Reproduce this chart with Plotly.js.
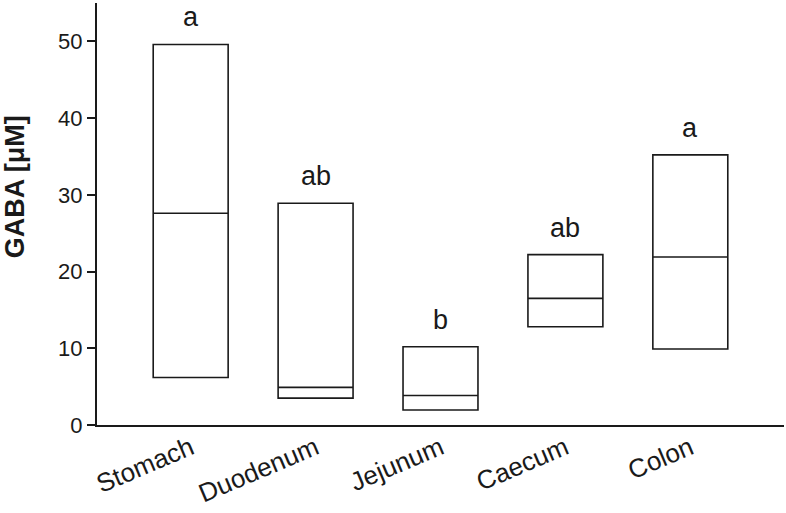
<!DOCTYPE html>
<html>
<head>
<meta charset="utf-8">
<script src="https://cdn.plot.ly/plotly-3.0.1.min.js"></script>
<style>
  html, body { margin: 0; padding: 0; background: #fff; }
  #chart { width: 786px; height: 513px; }
</style>
</head>
<body>
<div id="chart"></div>
<script>
// GABA concentration along the gut (box = q1..q3, line = median)
let sites = ["Stomach", "Duodenum", "Jejunum", "Caecum", "Colon"];
let q1 = [6.2, 3.5, 1.95, 12.8, 9.9];
let med = [27.6, 4.9, 3.85, 16.5, 21.9];
let q3 = [49.6, 28.9, 10.2, 22.2, 35.2];
let letters = ["a", "ab", "b", "ab", "a"];

let ink = "#1a1a1a";

var boxes = {
    type: "box",
    x: sites,
    q1: q1,
    median: med,
    q3: q3,
    lowerfence: q1,
    upperfence: q3,
    width: 0.6,
    whiskerwidth: 0,
    boxpoints: false,
    fillcolor: "#ffffff",
    line: {color: ink, width: 1.6},
    hoverinfo: "skip",
    showlegend: false
};

var notes = [];
for (let i = 0; i < sites.length; i++) {
    notes.push({
        x: sites[i], y: q3[i],
        xref: "x", yref: "y",
        text: letters[i],
        showarrow: false,
        yanchor: "bottom",
        yshift: 10,
        font: {size: 27, color: ink}
    });
}
// y title as annotation: it sits higher than the middle of the axis
notes.push({
    xref: "paper", yref: "paper",
    x: -0.119, y: 0.564,
    text: "<b>GABA [μM]</b>",
    textangle: -90,
    showarrow: false,
    xanchor: "center", yanchor: "middle",
    font: {size: 27, color: ink}
});

var layout = {
    width: 786,
    height: 513,
    margin: {l: 97, r: 2, t: 3, b: 88, pad: 0},
    paper_bgcolor: "#ffffff",
    plot_bgcolor: "#ffffff",
    font: {family: "Liberation Sans, Arial, sans-serif", color: ink},
    xaxis: {
        type: "category",
        range: [-0.75, 4.75],
        showline: true,
        linecolor: ink,
        linewidth: 2,
        ticks: "",
        showgrid: false,
        zeroline: false,
        tickangle: -23,
        ticklabelstandoff: -4,
        tickfont: {size: 26, color: ink}
    },
    yaxis: {
        range: [0, 55],
        tickvals: [0, 10, 20, 30, 40, 50],
        showline: true,
        linecolor: ink,
        linewidth: 2,
        ticks: "outside",
        ticklen: 8,
        tickwidth: 2,
        tickcolor: ink,
        showgrid: false,
        zeroline: false,
        tickfont: {size: 22, color: ink}
    },
    annotations: notes
};

Plotly.newPlot("chart", [boxes], layout, {staticPlot: true});
</script>
</body>
</html>
